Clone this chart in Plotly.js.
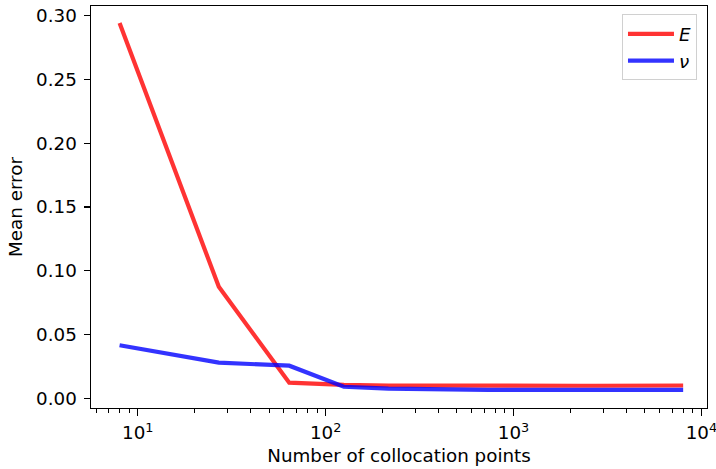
<!DOCTYPE html>
<html>
<head>
<meta charset="utf-8">
<script src="https://cdn.plot.ly/plotly-3.0.1.min.js"></script>
<style>html,body{margin:0;padding:0;background:#fff;}#chart{width:716px;height:469px;}</style>
</head>
<body>
<div id="chart"></div>
<script>
// Number of collocation points
const points = [8, 27, 64, 125, 216, 343, 512, 729, 1000, 1331, 1728, 2197, 2744, 3375, 4096, 4913, 5832, 6859, 8000];
// Mean error of E
const errE = [0.294, 0.0875, 0.0125, 0.0108, 0.0103, 0.0101, 0.0100, 0.0100, 0.0100, 0.0100, 0.0100, 0.0101, 0.0101, 0.0101, 0.0102, 0.0102, 0.0102, 0.0103, 0.0103];
// Mean error of nu
const errNu = [0.0418, 0.0282, 0.0258, 0.0093, 0.0078, 0.0072, 0.0070, 0.0069, 0.0069, 0.0069, 0.0069, 0.0069, 0.0069, 0.0069, 0.0069, 0.0069, 0.0069, 0.0069, 0.0069];
const xMajor = [10, 100, 1000, 10000];
const xMajorText = ['10<sup>1</sup>', '10<sup>2</sup>', '10<sup>3</sup>', '10<sup>4</sup>'];
const yTicks = [0, 0.05, 0.10, 0.15, 0.20, 0.25, 0.30];
const yTickText = ['0.00', '0.05', '0.10', '0.15', '0.20', '0.25', '0.30'];
const legendNames = ['<i>E</i>', '<i>ν</i>'];

const xMinor = [];
[1, 10, 100, 1000].forEach(d => { for (let k = 2; k <= 9; k++) xMinor.push(k * d); });

const font = {family: 'DejaVu Sans, sans-serif', size: 18.3, color: '#000'};

const data = [
  {x: points, y: errE, type: 'scatter', mode: 'lines', name: legendNames[0],
   line: {color: 'rgba(255,0,0,0.8)', width: 4.2}},
  {x: points, y: errNu, type: 'scatter', mode: 'lines', name: legendNames[1],
   line: {color: 'rgba(0,0,255,0.8)', width: 4.2}}
];

const layout = {
  width: 716, height: 469,
  margin: {l: 91, r: 9.3, t: 5.7, b: 60.7},
  paper_bgcolor: '#fff', plot_bgcolor: '#fff',
  font: font,
  showlegend: true,
  xaxis: {
    type: 'log',
    range: [0.751, 4.030],
    tickmode: 'array', tickvals: xMajor, ticktext: xMajorText,
    ticks: 'outside', ticklen: 6.3, tickwidth: 1.2, tickcolor: '#000',
    minor: {tickmode: 'array', tickvals: xMinor, ticks: 'outside', ticklen: 3.6, tickwidth: 1.0, tickcolor: '#000', showgrid: false},
    showline: true, linecolor: '#000', linewidth: 1.2, mirror: true,
    showgrid: false, zeroline: false,
    tickfont: font,
    ticklabelstandoff: 2,
    ticklabeloverflow: 'allow',
    title: {text: 'Number of collocation points', font: font, standoff: 6}
  },
  yaxis: {
    range: [-0.0073, 0.3073],
    tickmode: 'array', tickvals: yTicks, ticktext: yTickText,
    ticks: 'outside', ticklen: 6.3, tickwidth: 1.2, tickcolor: '#000',
    showline: true, linecolor: '#000', linewidth: 1.2, mirror: true,
    showgrid: false, zeroline: false,
    tickfont: font,
    ticklabelstandoff: 3,
    title: {text: 'Mean error', font: font, standoff: 8}
  },
  legend: {
    x: 0.862, y: 0.979, xanchor: 'left', yanchor: 'top',
    bgcolor: 'rgba(255,255,255,0.8)', bordercolor: '#d0d0d0', borderwidth: 1,
    font: {family: 'DejaVu Sans, sans-serif', size: 18.3, color: '#000'},
    itemwidth: 46,
    tracegroupgap: 4
  }
};

Plotly.newPlot('chart', data, layout, {displayModeBar: false, staticPlot: true});
</script>
</body>
</html>
